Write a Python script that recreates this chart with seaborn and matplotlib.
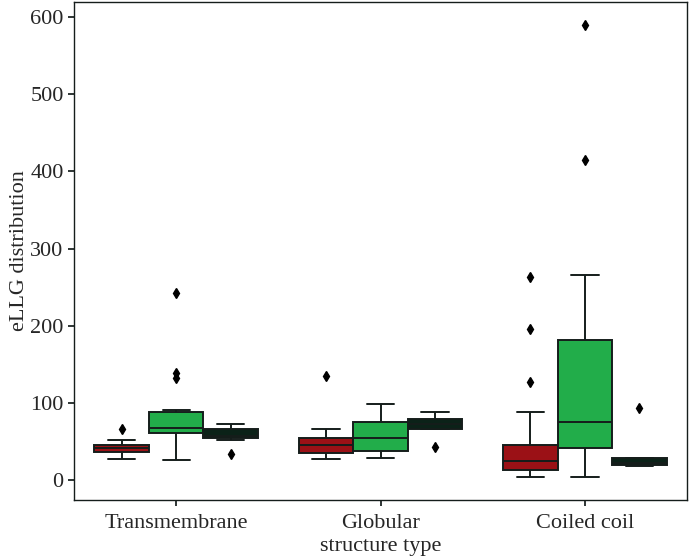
import numpy as np
import pandas as pd
import matplotlib
matplotlib.use("Agg")
import matplotlib.pyplot as plt
import seaborn as sns

categories = ["Transmembrane", "Globular", "Coiled coil"]
methods = ["Model A", "Model B", "Model C"]
colors = ["#9b1116", "#22ad4a", "#0b2218"]

# eLLG values per (structure type, method)
tm_a = [27.1, 33.0, 36.7, 39.0, 41.3, 43.0, 45.7, 52.2, 66.9]
tm_b = [26.4, 45.0, 55.0, 60.0, 61.2, 63.0, 65.0, 66.5, 67.7, 72.0, 80.0, 87.0, 88.8, 91.3, 132.6, 138.8, 242.9]
tm_c = [34.5, 52.5, 54.0, 55.5, 57.0, 62.0, 66.0, 70.0, 72.9]
gl_a = [27.4, 31.0, 34.8, 40.0, 45.0, 50.0, 55.0, 66.8, 134.4]
gl_b = [28.2, 33.0, 37.3, 46.0, 55.0, 65.0, 75.8, 88.0, 99.3]
gl_c = [43.3, 66.0, 66.4, 70.0, 73.0, 76.0, 78.6, 84.0, 88.2]
cc_a = [3.9, 6.0, 8.0, 10.5, 12.5, 16.0, 19.0, 22.0, 24.5, 28.0, 35.0, 42.0, 46.1, 88.8, 126.6, 196.0, 263.6]
cc_b = [3.9, 20.0, 35.0, 41.9, 50.0, 62.0, 75.8, 100.0, 140.0, 181.8, 265.8, 415.0, 590.0]
cc_c = [17.7, 18.5, 19.4, 20.5, 22.0, 25.0, 28.4, 28.4, 93.5]

groups = {
    ("Transmembrane", "Model A"): tm_a,
    ("Transmembrane", "Model B"): tm_b,
    ("Transmembrane", "Model C"): tm_c,
    ("Globular", "Model A"): gl_a,
    ("Globular", "Model B"): gl_b,
    ("Globular", "Model C"): gl_c,
    ("Coiled coil", "Model A"): cc_a,
    ("Coiled coil", "Model B"): cc_b,
    ("Coiled coil", "Model C"): cc_c,
}
rows = []
for (cat, m), vals in groups.items():
    for v in vals:
        rows.append({"structure type": cat, "method": m, "eLLG": v})
df = pd.DataFrame(rows)

sns.set_theme(style="ticks")
plt.rcParams["font.family"] = ["Liberation Serif", "DejaVu Serif"]

fig = plt.figure(figsize=(6.92, 5.59), dpi=100)
ax = fig.add_axes([0.107, 0.106, 0.886, 0.890])
line_c = "#151d1b"
sns.boxplot(data=df, x="structure type", y="eLLG", hue="method",
            order=categories, hue_order=methods, palette=colors,
            saturation=1, width=0.8, linewidth=1.4, linecolor=line_c,
            flierprops=dict(marker="d", markerfacecolor="black",
                            markeredgecolor="black", markersize=5.5),
            legend=False, ax=ax)
ax.set_xlabel("structure type", fontsize=16, labelpad=3)
ax.set_ylabel("eLLG distribution", fontsize=16, labelpad=1)
ax.tick_params(labelsize=16, length=4, color=line_c)
ax.tick_params(axis="x", pad=6)
ax.set_yticks([0, 100, 200, 300, 400, 500, 600])
for s in ax.spines.values():
    s.set_color(line_c)
    s.set_linewidth(1.0)

fig.savefig("out.png", dpi=100)
